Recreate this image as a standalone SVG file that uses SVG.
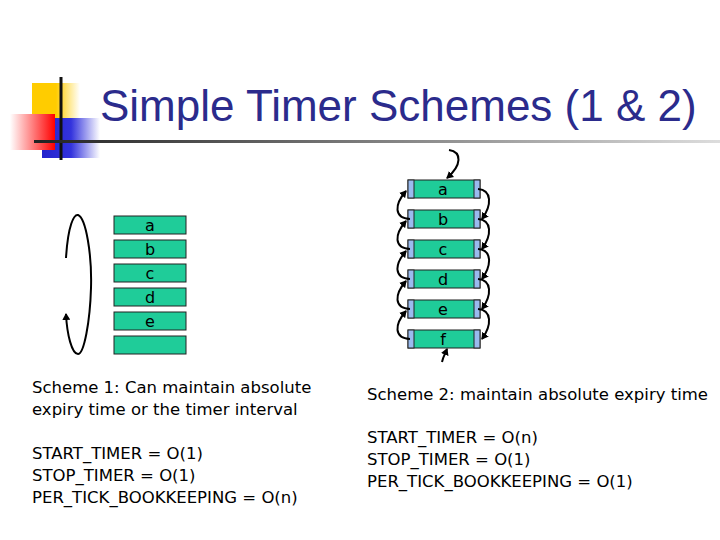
<svg xmlns="http://www.w3.org/2000/svg" width="720" height="540" viewBox="0 0 720 540">
<defs>
<marker id="ah" markerWidth="8" markerHeight="8" refX="6" refY="4" orient="auto" markerUnits="userSpaceOnUse"><path d="M0,0 L7,4 L0,8 z" fill="#000"/></marker>
<linearGradient id="gr" x1="0" x2="1"><stop offset="0" stop-color="#fff"/><stop offset="1" stop-color="#f00"/></linearGradient>
<linearGradient id="gb" x1="0" x2="1"><stop offset="0" stop-color="#22c"/><stop offset="0.5" stop-color="#33d"/><stop offset="1" stop-color="#fff"/></linearGradient>
<linearGradient id="gy" x1="0" x2="1"><stop offset="0.5" stop-color="#fc0"/><stop offset="1" stop-color="#fff"/></linearGradient>
<linearGradient id="gl" x1="0" x2="1"><stop offset="0" stop-color="#222"/><stop offset="1" stop-color="#ddd"/></linearGradient>
</defs>
<style>
.bx{fill:#1fcc99;stroke:#222;stroke-width:1}
.cap{fill:#99bbee;stroke:#222;stroke-width:1}
.t{font-family:"DejaVu Sans",Verdana,sans-serif;font-size:16.5px;fill:#000}
.l{font-family:"DejaVu Sans",Verdana,sans-serif;font-size:16px;text-anchor:middle}
.c{fill:none;stroke:#000;stroke-width:2}
</style>
<g id="logo">
<rect x="32" y="83" width="48" height="40" fill="url(#gy)"/>
<rect x="42" y="118" width="58" height="40" fill="url(#gb)"/>
<rect x="10" y="114" width="45" height="36" fill="url(#gr)"/>
<line x1="61" y1="77" x2="61" y2="160" stroke="#111" stroke-width="3"/>
<rect x="34" y="140" width="686" height="3" fill="url(#gl)"/>
</g>
<text x="100" y="121" font-family="Liberation Sans,Arial,sans-serif" font-size="44" fill="#2b2b8c">Simple Timer Schemes (1 &amp; 2)</text>
<g id="left">
<rect class="bx" x="114" y="216" width="72" height="18"/><text class="l" x="150" y="231">a</text>
<rect class="bx" x="114" y="240" width="72" height="18"/><text class="l" x="150" y="255">b</text>
<rect class="bx" x="114" y="264" width="72" height="18"/><text class="l" x="150" y="279">c</text>
<rect class="bx" x="114" y="288" width="72" height="18"/><text class="l" x="150" y="303">d</text>
<rect class="bx" x="114" y="312" width="72" height="18"/><text class="l" x="150" y="327">e</text>
<rect class="bx" x="114" y="336" width="72" height="18"/>
</g>
<g id="right">
<g id="ra"><rect class="bx" x="408" y="180" width="72" height="18"/><rect class="cap" x="408" y="180" width="6" height="18"/><rect class="cap" x="474" y="180" width="6" height="18"/><text class="l" x="443" y="195">a</text></g>
<g id="rb"><rect class="bx" x="408" y="210" width="72" height="18"/><rect class="cap" x="408" y="210" width="6" height="18"/><rect class="cap" x="474" y="210" width="6" height="18"/><text class="l" x="443" y="225">b</text></g>
<g id="rc"><rect class="bx" x="408" y="240" width="72" height="18"/><rect class="cap" x="408" y="240" width="6" height="18"/><rect class="cap" x="474" y="240" width="6" height="18"/><text class="l" x="443" y="255">c</text></g>
<g id="rd"><rect class="bx" x="408" y="270" width="72" height="18"/><rect class="cap" x="408" y="270" width="6" height="18"/><rect class="cap" x="474" y="270" width="6" height="18"/><text class="l" x="443" y="285">d</text></g>
<g id="re"><rect class="bx" x="408" y="300" width="72" height="18"/><rect class="cap" x="408" y="300" width="6" height="18"/><rect class="cap" x="474" y="300" width="6" height="18"/><text class="l" x="443" y="315">e</text></g>
<g id="rf"><rect class="bx" x="408" y="330" width="72" height="18"/><rect class="cap" x="408" y="330" width="6" height="18"/><rect class="cap" x="474" y="330" width="6" height="18"/><text class="l" x="443" y="345">f</text></g>
</g>
<g id="connectors">
<path class="c" d="M66,258 C68,225 74,214 78,215 C86,218 92,255 91,288 C90,322 84,354 78,354 C72,354 67,335 66,314" marker-end="url(#ah)"/>
<path class="c" d="M449,150 C462,152 462,165 447,178" marker-end="url(#ah)"/>
<path class="c" d="M478,189 C492,190 492,205 482,219" marker-end="url(#ah)"/>
<path class="c" d="M478,219 C492,220 492,235 482,249" marker-end="url(#ah)"/>
<path class="c" d="M478,249 C492,250 492,265 482,279" marker-end="url(#ah)"/>
<path class="c" d="M478,279 C492,280 492,295 482,309" marker-end="url(#ah)"/>
<path class="c" d="M478,309 C492,310 492,325 482,339" marker-end="url(#ah)"/>
<path class="c" d="M410,219 C394,218 394,205 406,191" marker-end="url(#ah)"/>
<path class="c" d="M410,249 C394,248 394,235 406,221" marker-end="url(#ah)"/>
<path class="c" d="M410,279 C394,278 394,265 406,251" marker-end="url(#ah)"/>
<path class="c" d="M410,309 C394,308 394,295 406,281" marker-end="url(#ah)"/>
<path class="c" d="M410,339 C394,338 394,325 406,311" marker-end="url(#ah)"/>
<path class="c" d="M442,362 C443,357 445,354 447,349" marker-end="url(#ah)"/>
</g>
<text class="t" x="32" y="393">Scheme 1: Can maintain absolute</text>
<text class="t" x="32" y="415">expiry time or the timer interval</text>
<text class="t" x="32" y="459">START_TIMER = O(1)</text>
<text class="t" x="32" y="481">STOP_TIMER = O(1)</text>
<text class="t" x="32" y="503">PER_TICK_BOOKKEEPING = O(n)</text>
<text class="t" x="367" y="400">Scheme 2: maintain absolute expiry time</text>
<text class="t" x="367" y="443">START_TIMER = O(n)</text>
<text class="t" x="367" y="465">STOP_TIMER = O(1)</text>
<text class="t" x="367" y="487">PER_TICK_BOOKKEEPING = O(1)</text>
</svg>
